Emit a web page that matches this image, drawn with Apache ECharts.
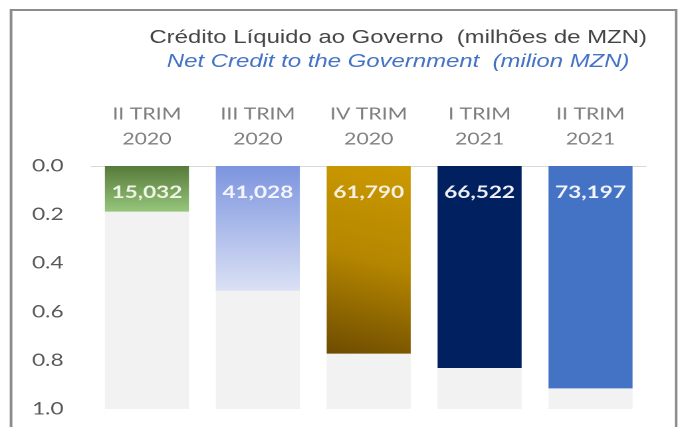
<!DOCTYPE html>
<html>
<head>
<meta charset="utf-8">
<script src="https://cdn.jsdelivr.net/npm/echarts@6/dist/echarts.min.js"></script>
<style>
html,body{margin:0;padding:0;background:#fff;overflow:hidden;}
#wrap{width:678px;height:427px;overflow:hidden;}
#chart{width:510px;height:427px;transform:scaleX(1.3294);transform-origin:0 0;}
</style>
</head>
<body>
<div id="wrap"><div id="chart"></div></div>
<script>
// ---- data ----
const categories = ['II TRIM\n2020', 'III TRIM\n2020', 'IV TRIM\n2020', 'I TRIM\n2021', 'II TRIM\n2021'];
const values = [15032, 41028, 61790, 66522, 73197];
const scaleMax = 80000;          // full-height reference (axis 1.0)
const tickStep = 16000;          // 0.2 of scaleMax
const titleMain = 'Crédito Líquido ao Governo  (milhões de MZN)';
const titleSub = 'Net Credit to the Government  (milion MZN)';

const barColors = [
  new echarts.graphic.LinearGradient(0, 0, 0, 1, [{offset: 0, color: '#587a3a'}, {offset: 1, color: '#96c67c'}]),
  new echarts.graphic.LinearGradient(0, 0, 0, 1, [{offset: 0, color: '#7d95df'}, {offset: 1, color: '#dbe1f5'}]),
  new echarts.graphic.LinearGradient(1, 0, 0, 1, [{offset: 0, color: '#cc9a00'}, {offset: 0.5, color: '#b58600'}, {offset: 1, color: '#6e4c00'}]),
  '#002060',
  '#4472c4'
];
const labelColors = ['#eef5e4', '#f4f5ff', '#f6f0e0', '#eef0f6', '#f2f4fa'];

const chart = echarts.init(document.getElementById('chart'), null, {devicePixelRatio: 2});
chart.setOption({
  animation: false,
  backgroundColor: '#ffffff',
  graphic: [{
    type: 'rect',
    shape: {x: 8.3, y: 10, width: 500.3, height: 440},
    style: {fill: 'none', stroke: '#8c8c8c', lineWidth: 2},
    silent: true
  }],
  title: {
    text: titleMain,
    subtext: titleSub,
    left: 294.5,
    top: 24,
    textAlign: 'center',
    itemGap: 6,
    textStyle: {fontFamily: 'Liberation Sans, Arial', fontSize: 18, fontWeight: 'normal', color: '#454545'},
    subtextStyle: {fontFamily: 'Liberation Sans, Arial', fontSize: 18, fontStyle: 'italic', color: '#4472c4'}
  },
  grid: {left: 68.8, right: 24.1, top: 166, bottom: 18},
  xAxis: {
    type: 'category',
    position: 'top',
    data: categories,
    axisLine: {show: true, lineStyle: {color: '#d9d9d9', width: 1}},
    axisTick: {show: false},
    axisLabel: {
      color: '#7f7f7f', fontFamily: 'Lato', fontSize: 16, lineHeight: 25, margin: 14
    }
  },
  yAxis: {
    type: 'value',
    inverse: true,
    min: 0,
    max: scaleMax,
    interval: tickStep,
    splitLine: {show: false},
    axisLine: {show: false},
    axisTick: {show: false},
    axisLabel: {
      color: '#595959', fontFamily: 'Lato', fontSize: 17, margin: 21,
      formatter: v => (v / scaleMax).toFixed(1)
    }
  },
  series: [
    {
      type: 'bar',
      data: categories.map(() => scaleMax),
      barWidth: 63.2,
      itemStyle: {color: '#f2f2f2'},
      silent: true,
      z: 1
    },
    {
      type: 'bar',
      barGap: '-100%',
      barWidth: 63.2,
      z: 2,
      data: values.map((v, i) => ({
        value: v,
        itemStyle: {color: barColors[i]},
        label: {color: labelColors[i]}
      })),
      label: {
        show: true,
        position: 'insideTop',
        distance: 18,
        fontFamily: 'Lato',
        fontWeight: 'bold',
        fontSize: 17,
        formatter: p => p.value.toLocaleString('en-US')
      }
    }
  ]
});
</script>
</body>
</html>
